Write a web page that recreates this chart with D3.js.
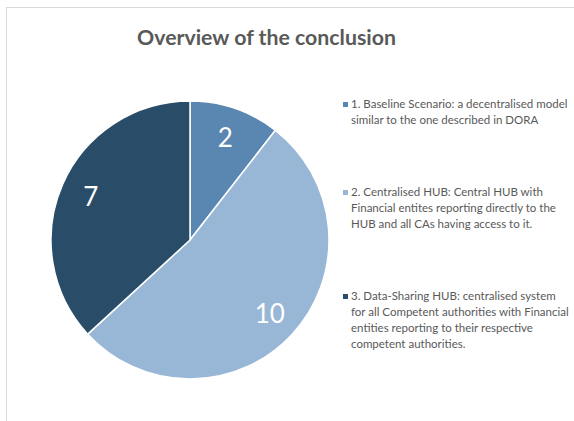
<!DOCTYPE html>
<html>
<head>
<meta charset="utf-8">
<script src="https://cdn.jsdelivr.net/npm/d3@7"></script>
<style>
  html, body { margin: 0; padding: 0; background: #fff; }
  svg { display: block; }
</style>
</head>
<body>
<div id="chart"></div>
<script>
const title = "Overview of the conclusion";
const categories = [
  "1. Baseline Scenario: a decentralised model similar to the one described in DORA",
  "2. Centralised HUB: Central HUB with Financial entites reporting directly to the HUB and all CAs having access to it.",
  "3. Data-Sharing HUB: centralised system for all Competent authorities with Financial entities reporting to their respective competent authorities."
];
const legendLines = [
  ["1. Baseline Scenario: a decentralised model", "similar to the one described in DORA"],
  ["2. Centralised HUB: Central HUB with", "Financial entites reporting directly to the", "HUB and all CAs having access to it."],
  ["3. Data-Sharing HUB: centralised system", "for all Competent authorities with Financial", "entities reporting to their respective", "competent authorities."]
];
const values = [2, 10, 7];
const colors = ["#5a87b1", "#98b7d6", "#294d69"];

const W = 574, H = 421;
const FONT = "Lato, 'Open Sans', sans-serif";
const TEXT = "#595959";

const svg = d3.select("#chart").append("svg").attr("width", W).attr("height", H);

// chart area border
svg.append("rect")
  .attr("x", 6.5).attr("y", 7.5).attr("width", 700).attr("height", 600)
  .attr("fill", "none").attr("stroke", "#d9d9d9").attr("stroke-width", 1);

function fitWidth(sel, target) {
  const fs = parseFloat(sel.attr("font-size"));
  const w = sel.node().getComputedTextLength();
  if (w > 0) sel.attr("font-size", (fs * target / w).toFixed(2));
}

// title
const t = svg.append("text")
  .attr("x", 266.5).attr("y", 45)
  .attr("text-anchor", "middle")
  .attr("font-family", FONT).attr("font-weight", "bold")
  .attr("font-size", 21).attr("fill", TEXT)
  .text(title);
fitWidth(t, 259);

// pie
const cx = 190, cy = 240, R = 139;
const pie = d3.pie().sort(null).value(d => d)(values);
const arc = d3.arc().innerRadius(0).outerRadius(R);
const labelArc = d3.arc().innerRadius(R * 0.78).outerRadius(R * 0.78);
const color = d3.scaleOrdinal().domain(d3.range(values.length)).range(colors);

const g = svg.append("g").attr("transform", `translate(${cx},${cy})`);
g.selectAll("path.slice").data(pie).join("path")
  .attr("class", "slice")
  .attr("d", arc)
  .attr("fill", (d, i) => color(i))
  .attr("stroke", "#fff").attr("stroke-width", 1.5).attr("stroke-linejoin", "round");

g.selectAll("text.lbl").data(pie).join("text")
  .attr("class", "lbl")
  .attr("transform", d => `translate(${labelArc.centroid(d)})`)
  .attr("text-anchor", "middle").attr("dominant-baseline", "central")
  .attr("font-family", FONT).attr("font-size", 26).attr("fill", "#fff")
  .text(d => d.data);

// legend
const lx = 343, tx = 351, lineH = 16;
const firstY = [108, 196, 300];
const lg = svg.append("g");
legendLines.forEach((lines, i) => {
  lg.append("rect")
    .attr("x", lx).attr("y", firstY[i] - 6).attr("width", 5).attr("height", 5)
    .attr("fill", color(i));
  const txt = lg.append("text")
    .attr("font-family", FONT).attr("font-size", 11.5).attr("fill", TEXT);
  lines.forEach((ln, j) => {
    txt.append("tspan").attr("x", tx).attr("y", firstY[i] + j * lineH).text(ln);
  });
});
</script>
</body>
</html>
